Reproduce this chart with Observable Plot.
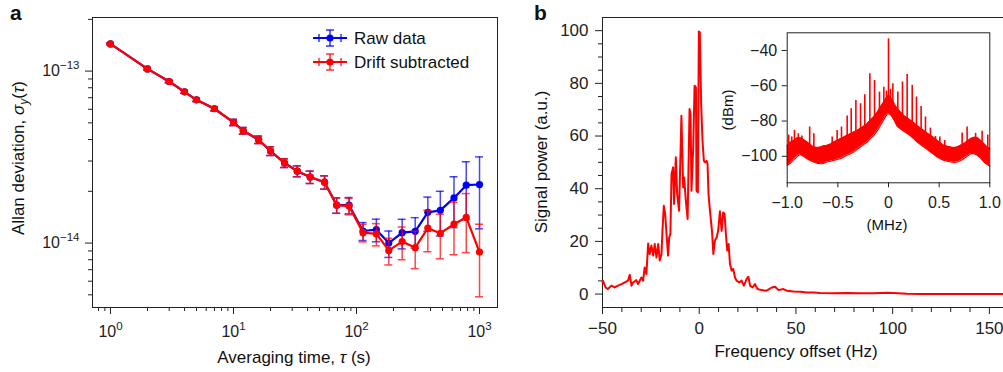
<!DOCTYPE html>
<html><head><meta charset="utf-8">
<script src="https://cdn.jsdelivr.net/npm/d3@7"></script>
<script src="https://cdn.jsdelivr.net/npm/@observablehq/plot@0.6"></script>
<style>
html,body{margin:0;padding:0;background:#fff;overflow:hidden}
#fig{position:relative;width:1003px;height:372px;font-family:"Liberation Sans",Arial,Helvetica,sans-serif;color:#111}
#fig > *{position:absolute}
.lab{white-space:nowrap;font-size:17px;transform:translate(-50%,-50%)}
.rot{transform:translate(-50%,-50%) rotate(-90deg)}
.small{font-size:15px}
.panel{font-weight:bold;font-size:21px;line-height:1}
</style></head><body><div id="fig"></div>
<script>
// ---------- Panel a data (Allan deviation, values in units of 1e-14) ----------
const tau = [1,2,3,4,5,7,10,12,16,20,26,33,42,55,69,87,113,145,183,235,300,380,480,620,780,1000];
const rawVal = [14.4,10.3,8.7,7.58,6.81,6.04,5.03,4.50,3.99,3.43,2.92,2.62,2.42,2.26,1.66,1.66,1.175,1.197,1.0,1.15,1.17,1.51,1.55,1.83,2.17,2.19];
const rawSig = [0.15,0.15,0.15,0.15,0.15,0.17,0.21,0.2,0.2,0.2,0.17,0.19,0.2,0.2,0.17,0.18,0.14,0.18,0.175,0.225,0.235,0.34,0.45,0.6,0.8,0.98];
const driftVal = [14.4,10.3,8.7,7.58,6.81,6.04,5.03,4.50,3.99,3.43,2.92,2.62,2.42,2.26,1.66,1.64,1.15,1.13,0.906,1.02,0.94,1.22,1.14,1.29,1.41,0.887];
const driftSig = [0.15,0.15,0.15,0.15,0.15,0.17,0.21,0.2,0.2,0.2,0.17,0.19,0.2,0.2,0.17,0.18,0.135,0.167,0.16,0.22,0.23,0.33,0.33,0.435,0.53,0.40];
const seriesNames = ["Raw data","Drift subtracted"];
const xMajorA = [1,10,100,1000];
const xMajorLabelsA = ["10^0","10^1","10^2","10^3"];
const xMinorA = [0.8,0.9,2,3,4,5,6,7,8,9,20,30,40,50,60,70,80,90,200,300,400,500,600,700,800,900];
const yMajorA = [1e-14,1e-13];
const yMajorLabelsA = ["10^\u221214","10^\u221213"];
const yMinorA = [5e-15,6e-15,7e-15,8e-15,9e-15,2e-14,3e-14,4e-14,5e-14,6e-14,7e-14,8e-14,9e-14,2e-13];

// ---------- Panel b data (beat-note spectrum) ----------
const freqHz = [-50,-49.8,-48.4,-47.2,-45.4,-43.7,-42,-40.2,-38.5,-36.8,-35.9,-35,-34.2,-32.5,-31.6,-29.9,-29,-28.2,-27.3,-26.4,-25.6,-24.7,-23.8,-23,-22.1,-21.2,-20.4,-19.5,-19,-18.3,-17.6,-16.9,-16.1,-15.5,-14.9,-14.3,-13.5,-13,-12.1,-11.4,-10.4,-9.2,-8.3,-7.8,-6.9,-6,-5,-4.5,-4,-3.1,-2.4,-1.7,-1.4,-0.7,-0.2,0.3,1,1.7,2.4,3.1,3.8,4.3,4.8,5.4,5.9,6.6,7.3,8.1,9,9.8,10.7,11.6,12.4,13.1,13.8,14.5,15.2,15.9,16.8,17.6,18.5,19.3,20.7,21.9,23.1,24.5,25.4,26.3,27.6,28.8,30.1,32.3,34.9,37.5,39.2,41,43.5,45.3,48.7,52.2,55.6,59.1,62.5,69.4,76.3,83.2,90.2,97,100.5,107.4,114.3,121.2,138.5,157.3];
const powerAU = [4.5,5.1,2.5,1.9,3.2,2.5,3.2,3.8,4.4,5.1,7.3,3.2,4.4,5.3,3.8,6.3,5.1,10.1,7.6,19.2,15.2,18.4,14.6,19,13.9,19,12.7,15.2,24,33.5,30.4,22.8,14.6,21.5,22.8,45.6,48.1,34.2,51.9,38,31.6,67.7,40.5,44.3,35.4,28.5,70.3,68.4,39.2,55.7,79.1,78.5,39.2,38.6,99.7,99.4,72.2,58.2,50.6,50,50.6,49.4,38,32.9,29.1,24,15.2,20.3,21.5,24,31.4,24,31,30.4,22.8,16.5,19,11.4,8.9,9.5,6.3,5.1,4.4,5.1,3.2,5.7,6.6,3.2,2.5,3.8,1.9,1.5,1.3,2.5,2.8,1.5,1.9,1.3,1,0.9,0.6,0.6,0.4,0.3,0.4,0.3,0.3,0.5,0.4,0.1,0,0,0,0];
const xMajorB = [-50,0,50,100,150];
const xMinorB = [-40,-30,-20,-10,10,20,30,40,60,70,80,90,110,120,130,140];
const yMajorB = [0,20,40,60,80,100];
const yMinorB = [5,10,15,25,30,35,45,50,55,65,70,75,85,90,95];

// ---------- Inset data (dBm vs MHz): noise band + comb spikes ----------
const bandMHz = [-1,-0.97,-0.935,-0.9,-0.87,-0.84,-0.8,-0.77,-0.74,-0.7,-0.67,-0.64,-0.61,-0.57,-0.54,-0.51,-0.475,-0.44,-0.41,-0.375,-0.343,-0.31,-0.278,-0.245,-0.21,-0.18,-0.146,-0.11,-0.08,-0.05,-0.03,-0.01,0,0.01,0.03,0.06,0.086,0.12,0.151,0.185,0.217,0.25,0.283,0.315,0.349,0.38,0.415,0.45,0.48,0.515,0.547,0.58,0.612,0.645,0.678,0.71,0.744,0.777,0.81,0.845,0.876,0.91,0.942,0.97,1];
const bandLo = [-105,-104,-102,-100,-99,-100,-101.5,-102.5,-103.2,-104,-104.2,-104,-103.2,-102.8,-102.3,-101.8,-101.3,-100.3,-99.4,-98.5,-97.5,-96,-94.7,-93.3,-91.9,-90,-88.1,-85.5,-82.5,-79.5,-77.5,-76,-76,-76,-77,-80,-83,-84.5,-85.8,-87,-88.3,-90,-91.9,-93.3,-94.7,-96,-97.5,-99,-100.4,-101.5,-102.3,-102.8,-103.2,-103.4,-103.2,-102.5,-101.3,-100,-98.5,-98.5,-99.4,-101,-103.2,-104.5,-105.5];
const bandHi = [-94,-92,-91,-89.5,-89.5,-90.5,-92,-93.5,-94.7,-95,-94.7,-94,-93.8,-93,-91.9,-91,-90,-89,-88.1,-87.2,-86.2,-85.3,-84.3,-83,-81.5,-79.5,-77.7,-75,-72.1,-69.5,-67.5,-66,-65.5,-66,-67.4,-70.5,-73,-75,-76.8,-78.3,-79.6,-81,-82.5,-84,-85.3,-86.8,-88.1,-89.5,-91,-92.5,-93.8,-94.3,-94.7,-95,-94.7,-93.8,-92.8,-91.5,-90,-89.2,-89.4,-91,-92.8,-94.5,-95.7];
const spikeMHz = [-0.985,-0.955,-0.928,-0.89,-0.855,-0.778,-0.737,-0.556,-0.507,-0.464,-0.408,-0.368,-0.322,-0.276,-0.234,-0.184,-0.138,-0.089,-0.046,-0.02,0,0.02,0.043,0.092,0.138,0.184,0.234,0.276,0.322,0.365,0.414,0.464,0.507,0.555,0.727,0.776,0.86,0.924,0.98];
const spikeTop = [-88,-89,-85.3,-87.2,-88.5,-83.4,-87.2,-89,-85.3,-83.4,-77.2,-73,-68.3,-70.2,-65.1,-53.2,-57,-63.6,-60.8,-63,-33.4,-62,-58.9,-63.6,-57.9,-53.6,-59.8,-66.4,-71.7,-77.7,-84,-88.7,-89,-91,-86.8,-83.4,-87,-85.8,-88];
const spikeBase = [-96,-94,-93,-92,-92,-94,-96,-94,-93,-92,-90,-89,-88,-86,-85,-82,-79,-75,-71,-70,-70,-70,-71,-75,-78,-80,-82,-84,-85,-87,-89,-91,-93,-95,-95,-93,-91,-94,-96];
const xTicksI = [-1,-0.5,0,0.5,1];
const xTickLabelsI = ["\u22121.0","\u22120.5","0","0.5","1.0"];
const yTicksI = [-100,-80,-60,-40];

// ---------- Build ----------
const FONT = '"Liberation Sans", Arial, Helvetica, sans-serif';
const AX = "#222";
const BLUE = "#0000ff", RED = "#ff0000";
const fig = document.getElementById("fig");
const baseStyle = {background: "transparent", fontFamily: FONT, fontSize: "16px", color: AX, overflow: "visible"};

const capF = Math.pow(10, 4 / 123); // half-cap width of ~4px on the log axis
const rows = (vals, sig) => tau.map((t, i) => ({t, v: vals[i] * 1e-14, s: sig[i] * 1e-14}));
const rawData = rows(rawVal, rawSig);
const driftData = rows(driftVal, driftSig);

function seriesMarks(data, color) {
  const eb = {stroke: color, strokeWidth: 1.5, strokeOpacity: 0.72};
  return [
    Plot.ruleX(data, {x: "t", y1: d => d.v - d.s, y2: d => d.v + d.s, ...eb}),
    Plot.ruleY(data, {y: d => d.v + d.s, x1: d => d.t / capF, x2: d => d.t * capF, ...eb}),
    Plot.ruleY(data, {y: d => d.v - d.s, x1: d => d.t / capF, x2: d => d.t * capF, ...eb}),
    Plot.line(data, {x: "t", y: "v", stroke: color, strokeWidth: 2.2}),
    Plot.dot(data, {x: "t", y: "v", r: 3.6, fill: color, stroke: "none"})
  ];
}

const pa = Plot.plot({
  width: 500, height: 372,
  marginLeft: 92, marginRight: 3, marginTop: 17, marginBottom: 65,
  style: baseStyle,
  x: {type: "log", domain: [0.714, 1400]},
  y: {type: "log", domain: [4.22e-15, 2.05e-13]},
  marks: [
    Plot.frame({stroke: AX}),
    Plot.axisX({ticks: xMajorA, tickSize: 7, tickPadding: 11, label: null, fontSize: 16,
      tickFormat: d => xMajorLabelsA[xMajorA.indexOf(d)]}),
    Plot.axisX({ticks: xMinorA, tickSize: 4, text: null, label: null}),
    Plot.axisY({ticks: yMajorA, tickSize: 7, tickPadding: 6, label: null, fontSize: 16,
      tickFormat: d => yMajorLabelsA[yMajorA.indexOf(d)]}),
    Plot.axisY({ticks: yMinorA, tickSize: 4, text: null, label: null}),
    ...seriesMarks(rawData, BLUE),
    ...seriesMarks(driftData, RED)
  ]
});

const spec = freqHz.map((f, i) => ({f, p: powerAU[i]}));
const yDomB = [-5.1, 105], xDomB = [-50, 157.3];
const pb = Plot.plot({
  width: 503, height: 372,
  marginLeft: 102, marginRight: 0, marginTop: 17, marginBottom: 65,
  style: baseStyle,
  x: {domain: xDomB},
  y: {domain: yDomB},
  marks: [
    Plot.ruleX([xDomB[0]], {stroke: AX}),
    Plot.ruleY([yDomB[0]], {stroke: AX}),
    Plot.ruleY([yDomB[1]], {stroke: AX}),
    Plot.axisX({ticks: xMajorB, tickSize: 7, tickPadding: 7, label: null, fontSize: 17}),
    Plot.axisX({ticks: xMinorB, tickSize: 5, text: null, label: null}),
    Plot.axisY({ticks: yMajorB, tickSize: 7, tickPadding: 7, label: null, fontSize: 17}),
    Plot.axisY({ticks: yMinorB, tickSize: 4, text: null, label: null}),
    Plot.line(spec, {x: "f", y: "p", stroke: RED, strokeWidth: 2})
  ]
});

const band = bandMHz.map((x, i) => ({x, lo: bandLo[i], hi: bandHi[i]}));
const spikes = spikeMHz.map((x, i) => ({x, top: spikeTop[i], base: spikeBase[i]}));
const pi = Plot.plot({
  width: 303, height: 215,
  marginLeft: 86.7, marginRight: 13.7, marginTop: 12.3, marginBottom: 52.7,
  style: baseStyle,
  x: {domain: [-1, 1]},
  y: {domain: [-115, -30]},
  marks: [
    Plot.areaY(band, {x: "x", y1: "lo", y2: "hi", fill: RED}),
    Plot.line(band, {x: "x", y: "hi", stroke: RED, strokeWidth: 1.2}),
    Plot.line(band, {x: "x", y: "lo", stroke: RED, strokeWidth: 1.2}),
    Plot.ruleX(spikes, {x: "x", y1: "base", y2: "top", stroke: RED, strokeWidth: 1.6}),
    Plot.frame({stroke: AX}),
    Plot.axisX({ticks: xTicksI, tickSize: 5, tickPadding: 9, label: null, fontSize: 16,
      tickFormat: d => xTickLabelsI[xTicksI.indexOf(d)]}),
    Plot.axisY({ticks: yTicksI, tickSize: 5, tickPadding: 5, label: null, fontSize: 16})
  ]
});

function supify(svg) {
  d3.select(svg).selectAll("text").each(function() {
    const m = /^10\^(.+)$/.exec(this.textContent);
    if (!m) return;
    const sel = d3.select(this);
    sel.selectAll("*").remove();
    sel.text(null);
    sel.append("tspan").text("10");
    sel.append("tspan").attr("dy", "-0.6em").attr("font-size", "0.72em").text(m[1]);
  });
}
supify(pa);

function place(el, left, top) { el.style.left = left + "px"; el.style.top = top + "px"; fig.appendChild(el); return el; }
place(pa, 0, 0);
place(pb, 500, 0);
place(pi, 700, 20);

function label(html, cx, cy, cls) {
  const d = document.createElement("div");
  d.className = "lab " + (cls || "");
  d.innerHTML = html;
  return place(d, cx, cy);
}
label("Allan deviation, <i>σ</i><sub style='font-size:12px'><i>y</i></sub>(<i>τ</i>)", 20, 158, "rot");
label("Averaging time, <i>τ</i> (s)", 294, 358);
label("Signal power (a.u.)", 542, 162, "rot");
label("Frequency offset (Hz)", 796, 352);
label("(dBm)", 727, 110, "rot small");
label("(MHz)", 887, 224, "small");

const pa_lab = document.createElement("div"); pa_lab.className = "panel"; pa_lab.textContent = "a"; place(pa_lab, 10, 2);
const pb_lab = document.createElement("div"); pb_lab.className = "panel"; pb_lab.textContent = "b"; place(pb_lab, 534, 2);

// Legend for panel a
const lg = d3.create("svg").attr("width", 220).attr("height", 80).style("overflow", "visible");
[[BLUE, 38], [RED, 62]].forEach(([c, y], i) => {
  const g = lg.append("g");
  const cx = 30;
  g.append("line").attr("x1", cx - 17).attr("x2", cx + 17).attr("y1", y).attr("y2", y).attr("stroke", c).attr("stroke-width", 2.2);
  [[cx, y - 8, cx, y + 8], [cx - 4, y - 8, cx + 4, y - 8], [cx - 4, y + 8, cx + 4, y + 8], [cx - 11, y - 4, cx - 11, y + 4], [cx + 11, y - 4, cx + 11, y + 4]]
    .forEach(([x1, y1, x2, y2]) => g.append("line").attr("x1", x1).attr("y1", y1).attr("x2", x2).attr("y2", y2).attr("stroke", c).attr("stroke-width", 1.5).attr("stroke-opacity", 0.8));
  g.append("circle").attr("cx", cx).attr("cy", y).attr("r", 3.6).attr("fill", c);
  g.append("text").attr("x", 54).attr("y", y).attr("dy", "0.35em").attr("font-size", 17).attr("font-family", FONT).attr("fill", "#111").text(seriesNames[i]);
});
place(lg.node(), 300, 0);
</script>
</body></html>
